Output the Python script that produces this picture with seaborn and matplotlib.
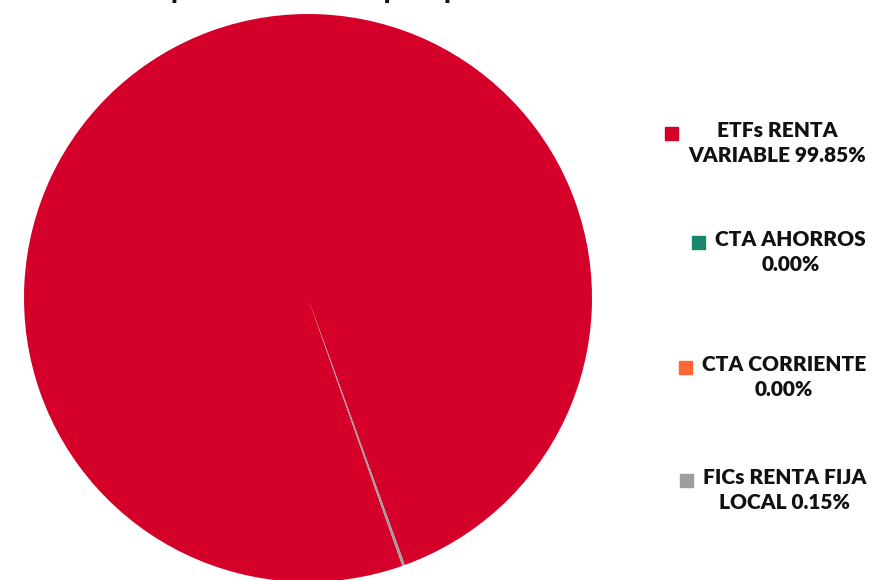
import matplotlib
matplotlib.use("Agg")
import matplotlib.pyplot as plt
import seaborn as sns
from matplotlib.patches import Rectangle

sns.set_theme(style="white")
plt.rcParams["font.family"] = ["Lato", "DejaVu Sans"]

# data
categories = ["ETFs RENTA\nVARIABLE", "CTA AHORROS", "CTA CORRIENTE", "FICs RENTA FIJA\nLOCAL"]
shares = [99.85, 0.00, 0.00, 0.15]
colors = ["#D5002A", "#16876A", "#FF6634", "#9E9E9E"]
title = "Composición del fondo por tipo de activo"

fig = plt.figure(figsize=(8.75, 5.8), dpi=100)
W, H = 875, 580

# pie axes: center ~(308, 298) px, radius ~284 px
cx, cy, r = 308, 298, 284
ax = fig.add_axes([(cx - r) / W, (H - cy - r) / H, 2 * r / W, 2 * r / H])
ax.pie(shares, colors=colors, startangle=-70.6, counterclock=False,
       wedgeprops=dict(linewidth=0))
ax.set_xlim(-1, 1)
ax.set_ylim(-1, 1)
ax.set_aspect("equal")

# title mostly cut off above the figure (only descenders show, as in the source)
fig.text(0.40, 1.0 + 1.0 / H, title, ha="center", va="baseline",
         fontsize=18, fontweight="heavy", color="#111111")

# legend: right aligned text blocks with square marker before
label_y = [133, 242, 367, 480]
right_x = 866
fig.canvas.draw()
renderer = fig.canvas.get_renderer()
for lab, val, col, y in zip(categories, shares, colors, label_y):
    if "\n" in lab:
        txt = f"{lab} {val:.2f}%"
    else:
        txt = f"{lab}\n{val:.2f}%"
    t = fig.text(right_x / W, 1 - (y - 12) / H, txt, ha="right", va="top",
                 multialignment="center", fontsize=15, fontweight="heavy",
                 color="#111111", linespacing=1.4)
    bb = t.get_window_extent(renderer)
    mx = bb.x0 - 10 - 13
    fig.patches.append(Rectangle((mx / W, 1 - (y + 7) / H), 13 / W, 13 / H,
                                 transform=fig.transFigure, color=col,
                                 figure=fig))

fig.savefig("out.png", dpi=100)
